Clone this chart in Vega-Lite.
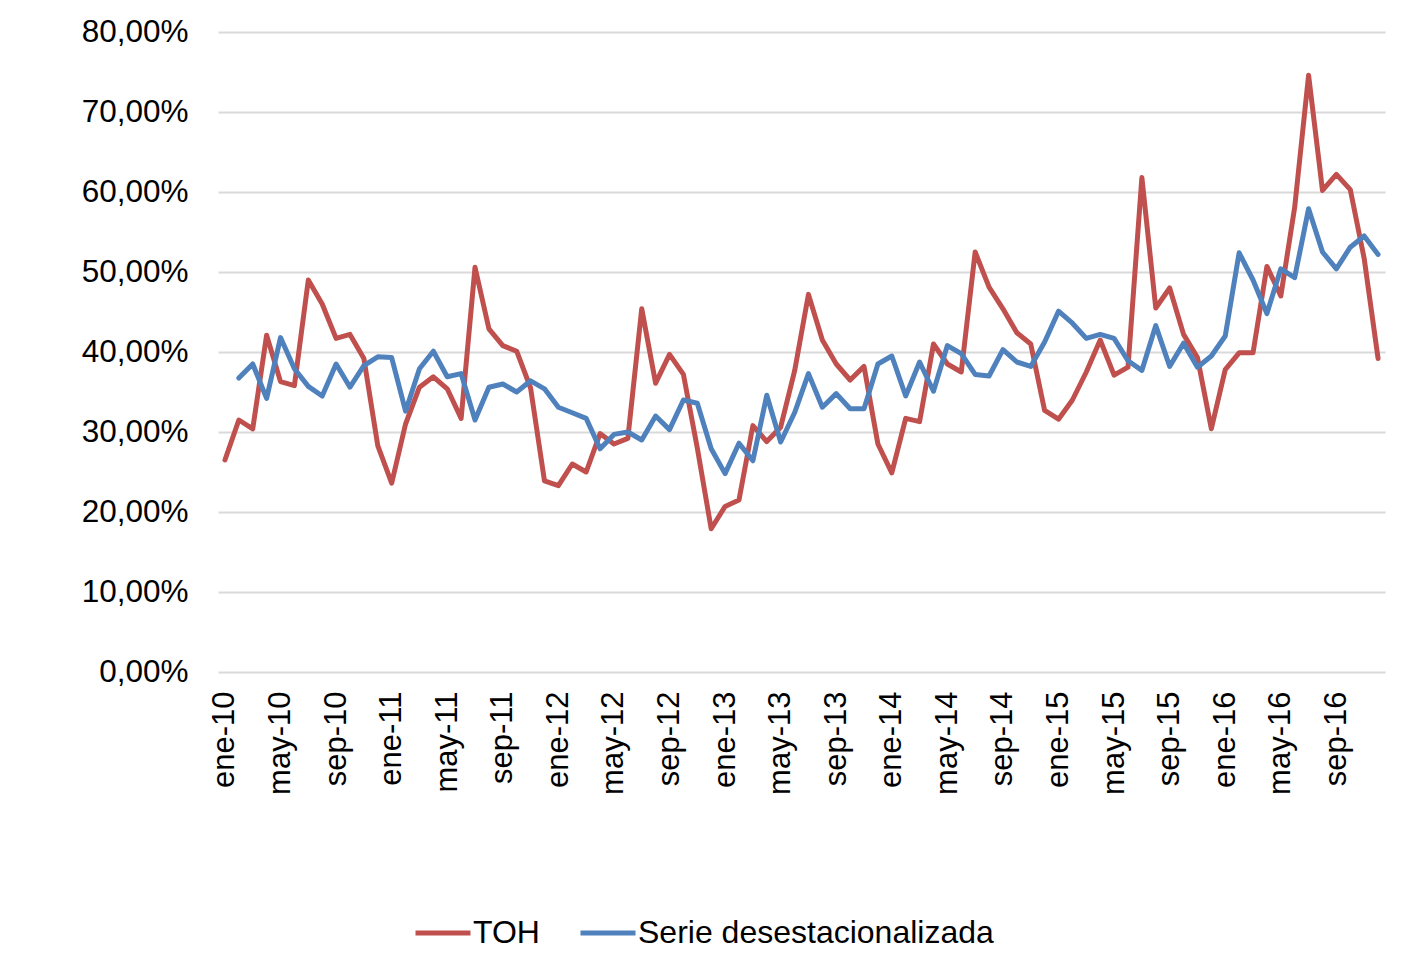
{
  "$schema": "https://vega.github.io/schema/vega-lite/v6.json",
  "width": 1167,
  "height": 640,
  "autosize": {"type": "none"},
  "padding": {"left": 218, "top": 32, "right": 20, "bottom": 295},
  "background": "white",
  "data": {
    "values": [
      {"mes": "ene-10", "TOH": 26.5, "SD": null},
      {"mes": "feb-10", "TOH": 31.5, "SD": 36.75},
      {"mes": "mar-10", "TOH": 30.4, "SD": 38.5},
      {"mes": "abr-10", "TOH": 42.1, "SD": 34.2},
      {"mes": "may-10", "TOH": 36.3, "SD": 41.8},
      {"mes": "jun-10", "TOH": 35.8, "SD": 37.9},
      {"mes": "jul-10", "TOH": 49.0, "SD": 35.7},
      {"mes": "ago-10", "TOH": 46.0, "SD": 34.5},
      {"mes": "sep-10", "TOH": 41.7, "SD": 38.5},
      {"mes": "oct-10", "TOH": 42.2, "SD": 35.6},
      {"mes": "nov-10", "TOH": 39.2, "SD": 38.3},
      {"mes": "dic-10", "TOH": 28.3, "SD": 39.4},
      {"mes": "ene-11", "TOH": 23.6, "SD": 39.3},
      {"mes": "feb-11", "TOH": 31.0, "SD": 32.6},
      {"mes": "mar-11", "TOH": 35.6, "SD": 37.9},
      {"mes": "abr-11", "TOH": 36.9, "SD": 40.1},
      {"mes": "may-11", "TOH": 35.4, "SD": 36.9},
      {"mes": "jun-11", "TOH": 31.7, "SD": 37.3},
      {"mes": "jul-11", "TOH": 50.6, "SD": 31.5},
      {"mes": "ago-11", "TOH": 42.9, "SD": 35.6},
      {"mes": "sep-11", "TOH": 40.8, "SD": 36.0},
      {"mes": "oct-11", "TOH": 40.1, "SD": 35.0},
      {"mes": "nov-11", "TOH": 35.5, "SD": 36.4},
      {"mes": "dic-11", "TOH": 23.9, "SD": 35.4},
      {"mes": "ene-12", "TOH": 23.3, "SD": 33.1},
      {"mes": "feb-12", "TOH": 26.0, "SD": 32.4},
      {"mes": "mar-12", "TOH": 25.0, "SD": 31.7},
      {"mes": "abr-12", "TOH": 29.8, "SD": 27.9},
      {"mes": "may-12", "TOH": 28.5, "SD": 29.7},
      {"mes": "jun-12", "TOH": 29.2, "SD": 30.0},
      {"mes": "jul-12", "TOH": 45.4, "SD": 29.0},
      {"mes": "ago-12", "TOH": 36.1, "SD": 32.0},
      {"mes": "sep-12", "TOH": 39.7, "SD": 30.3},
      {"mes": "oct-12", "TOH": 37.2, "SD": 34.0},
      {"mes": "nov-12", "TOH": 28.0, "SD": 33.6},
      {"mes": "dic-12", "TOH": 17.9, "SD": 27.9},
      {"mes": "ene-13", "TOH": 20.7, "SD": 24.8},
      {"mes": "feb-13", "TOH": 21.5, "SD": 28.6},
      {"mes": "mar-13", "TOH": 30.8, "SD": 26.4},
      {"mes": "abr-13", "TOH": 28.8, "SD": 34.6},
      {"mes": "may-13", "TOH": 30.6, "SD": 28.75},
      {"mes": "jun-13", "TOH": 37.6, "SD": 32.4},
      {"mes": "jul-13", "TOH": 47.2, "SD": 37.3},
      {"mes": "ago-13", "TOH": 41.5, "SD": 33.1},
      {"mes": "sep-13", "TOH": 38.5, "SD": 34.8},
      {"mes": "oct-13", "TOH": 36.5, "SD": 32.9},
      {"mes": "nov-13", "TOH": 38.2, "SD": 32.9},
      {"mes": "dic-13", "TOH": 28.5, "SD": 38.5},
      {"mes": "ene-14", "TOH": 24.9, "SD": 39.5},
      {"mes": "feb-14", "TOH": 31.7, "SD": 34.5},
      {"mes": "mar-14", "TOH": 31.3, "SD": 38.75},
      {"mes": "abr-14", "TOH": 41.0, "SD": 35.1},
      {"mes": "may-14", "TOH": 38.5, "SD": 40.8},
      {"mes": "jun-14", "TOH": 37.5, "SD": 39.8},
      {"mes": "jul-14", "TOH": 52.5, "SD": 37.2},
      {"mes": "ago-14", "TOH": 48.1, "SD": 37.0},
      {"mes": "sep-14", "TOH": 45.4, "SD": 40.3},
      {"mes": "oct-14", "TOH": 42.4, "SD": 38.75},
      {"mes": "nov-14", "TOH": 41.0, "SD": 38.2},
      {"mes": "dic-14", "TOH": 32.7, "SD": 41.25},
      {"mes": "ene-15", "TOH": 31.6, "SD": 45.1},
      {"mes": "feb-15", "TOH": 34.0, "SD": 43.6},
      {"mes": "mar-15", "TOH": 37.5, "SD": 41.7},
      {"mes": "abr-15", "TOH": 41.5, "SD": 42.2},
      {"mes": "may-15", "TOH": 37.1, "SD": 41.7},
      {"mes": "jun-15", "TOH": 38.1, "SD": 38.9},
      {"mes": "jul-15", "TOH": 61.8, "SD": 37.7},
      {"mes": "ago-15", "TOH": 45.5, "SD": 43.3},
      {"mes": "sep-15", "TOH": 48.0, "SD": 38.2},
      {"mes": "oct-15", "TOH": 42.2, "SD": 41.1},
      {"mes": "nov-15", "TOH": 39.3, "SD": 38.1},
      {"mes": "dic-15", "TOH": 30.4, "SD": 39.5},
      {"mes": "ene-16", "TOH": 37.8, "SD": 42.0},
      {"mes": "feb-16", "TOH": 39.9, "SD": 52.4},
      {"mes": "mar-16", "TOH": 39.9, "SD": 49.0},
      {"mes": "abr-16", "TOH": 50.7, "SD": 44.8},
      {"mes": "may-16", "TOH": 47.0, "SD": 50.4},
      {"mes": "jun-16", "TOH": 58.1, "SD": 49.3},
      {"mes": "jul-16", "TOH": 74.6, "SD": 57.9},
      {"mes": "ago-16", "TOH": 60.2, "SD": 52.5},
      {"mes": "sep-16", "TOH": 62.2, "SD": 50.4},
      {"mes": "oct-16", "TOH": 60.3, "SD": 53.1},
      {"mes": "nov-16", "TOH": 51.7, "SD": 54.5},
      {"mes": "dic-16", "TOH": 39.2, "SD": 52.2}
    ]
  },
  "encoding": {
    "x": {
      "field": "mes",
      "type": "ordinal",
      "sort": null,
      "scale": {"type": "point", "padding": 0.5},
      "axis": {
        "title": null,
        "values": ["ene-10", "may-10", "sep-10", "ene-11", "may-11", "sep-11", "ene-12", "may-12", "sep-12", "ene-13", "may-13", "sep-13", "ene-14", "may-14", "sep-14", "ene-15", "may-15", "sep-15", "ene-16", "may-16", "sep-16"],
        "labelAngle": 270,
        "labelAlign": "right",
        "labelBaseline": "middle",
        "labelPadding": 19,
        "ticks": false,
        "tickSize": 0,
        "domain": false,
        "grid": false,
        "labelFont": "Liberation Sans",
        "labelFontSize": 31,
        "labelColor": "#000000",
        "labelOverlap": false
      }
    }
  },
  "layer": [
    {
      "mark": {"type": "line", "strokeWidth": 5, "strokeJoin": "round", "strokeCap": "round"},
      "encoding": {
        "y": {
          "field": "TOH",
          "type": "quantitative",
          "scale": {"domain": [0, 80], "nice": false, "zero": true},
          "axis": {
            "title": null,
            "values": [0, 10, 20, 30, 40, 50, 60, 70, 80],
            "labelExpr": "replace(format(datum.value, '.2f'), '.', ',') + '%'",
            "labelPadding": 30,
            "ticks": false,
            "tickSize": 0,
            "domain": false,
            "grid": true,
            "gridColor": "#d9d9d9",
            "gridWidth": 2,
            "labelFont": "Liberation Sans",
            "labelFontSize": 31.5,
            "labelColor": "#000000"
          }
        },
        "color": {
          "datum": "TOH",
          "type": "nominal",
          "scale": {"domain": ["TOH", "Serie desestacionalizada"], "range": ["#C0504D", "#4F81BD"]},
          "legend": {
            "title": null,
            "orient": "none",
            "direction": "horizontal",
            "legendX": 195,
            "legendY": 871,
            "padding": 0,
            "symbolType": "stroke",
            "symbolSize": 3025,
            "symbolStrokeWidth": 5,
            "labelOffset": 0,
            "columnPadding": 30,
            "labelFont": "Liberation Sans",
            "labelFontSize": 32,
            "labelColor": "#000000",
            "labelLimit": 1000
          }
        }
      }
    },
    {
      "mark": {"type": "line", "strokeWidth": 5, "strokeJoin": "round", "strokeCap": "round"},
      "encoding": {
        "y": {"field": "SD", "type": "quantitative"},
        "color": {"datum": "Serie desestacionalizada", "type": "nominal"}
      }
    }
  ],
  "config": {
    "view": {"stroke": null}
  }
}
